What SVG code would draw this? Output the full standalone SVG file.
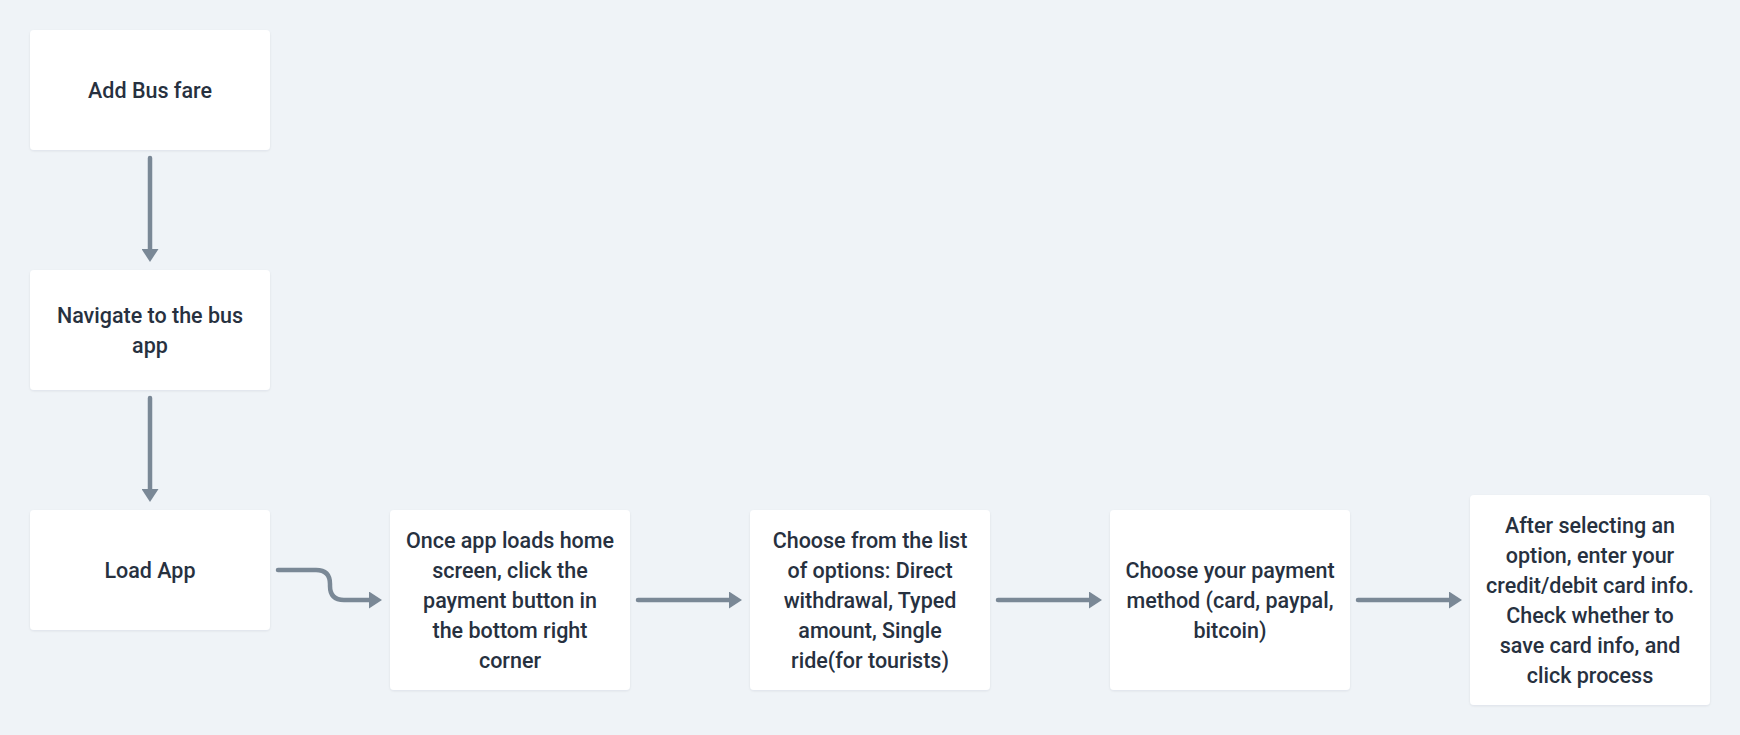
<svg xmlns="http://www.w3.org/2000/svg" width="1740" height="735" viewBox="0 0 1740 735">
<style>
.bg{fill:#eff3f7}
.box{fill:#ffffff;filter:url(#sh)}
.t{font-family:Roboto,"Liberation Sans",Arial,sans-serif;font-size:21.5px;font-weight:500;fill:#27313f;text-anchor:middle}
.c{fill:none;stroke:#7a8896;stroke-width:4.5;stroke-linecap:round;stroke-linejoin:round;marker-end:url(#ah)}
</style>
<defs>
<filter id="sh" x="-10%" y="-10%" width="120%" height="130%">
<feDropShadow dx="0" dy="1" stdDeviation="1" flood-color="#1a2a3a" flood-opacity="0.08"/>
</filter>
<marker id="ah" markerUnits="userSpaceOnUse" markerWidth="13" markerHeight="17" refX="6" refY="8.5" orient="auto">
<path d="M0,0 L13,8.5 L0,17 Z" fill="#7a8896"/>
</marker>
</defs>
<rect class="bg" x="0" y="0" width="1740" height="735"/>
<g id="connectors">
<path class="c" d="M150,158 V255"/>
<path class="c" d="M150,398 V495"/>
<path class="c" d="M278,570 H316 Q330,570 330,584 V586 Q330,600 344,600 H375"/>
<path class="c" d="M638,600 H735"/>
<path class="c" d="M998,600 H1095"/>
<path class="c" d="M1358,600 H1455"/>
</g>
<g id="node-add-bus-fare">
<rect class="box" x="30" y="30" width="240" height="120" rx="4"/>
<text class="t" x="150" y="98">Add Bus fare</text>
</g>
<g id="node-navigate">
<rect class="box" x="30" y="270" width="240" height="120" rx="4"/>
<text class="t" x="150" y="323">Navigate to the bus</text>
<text class="t" x="150" y="353">app</text>
</g>
<g id="node-load-app">
<rect class="box" x="30" y="510" width="240" height="120" rx="4"/>
<text class="t" x="150" y="578">Load App</text>
</g>
<g id="node-once-app-loads">
<rect class="box" x="390" y="510" width="240" height="180" rx="4"/>
<text class="t" x="510" y="548">Once app loads home</text>
<text class="t" x="510" y="578">screen, click the</text>
<text class="t" x="510" y="608">payment button in</text>
<text class="t" x="510" y="638">the bottom right</text>
<text class="t" x="510" y="668">corner</text>
</g>
<g id="node-choose-options">
<rect class="box" x="750" y="510" width="240" height="180" rx="4"/>
<text class="t" x="870" y="548">Choose from the list</text>
<text class="t" x="870" y="578">of options: Direct</text>
<text class="t" x="870" y="608">withdrawal, Typed</text>
<text class="t" x="870" y="638">amount, Single</text>
<text class="t" x="870" y="668">ride(for tourists)</text>
</g>
<g id="node-payment-method">
<rect class="box" x="1110" y="510" width="240" height="180" rx="4"/>
<text class="t" x="1230" y="578">Choose your payment</text>
<text class="t" x="1230" y="608">method (card, paypal,</text>
<text class="t" x="1230" y="638">bitcoin)</text>
</g>
<g id="node-card-info">
<rect class="box" x="1470" y="495" width="240" height="210" rx="4"/>
<text class="t" x="1590" y="533">After selecting an</text>
<text class="t" x="1590" y="563">option, enter your</text>
<text class="t" x="1590" y="593">credit/debit card info.</text>
<text class="t" x="1590" y="623">Check whether to</text>
<text class="t" x="1590" y="653">save card info, and</text>
<text class="t" x="1590" y="683">click process</text>
</g>
</svg>
